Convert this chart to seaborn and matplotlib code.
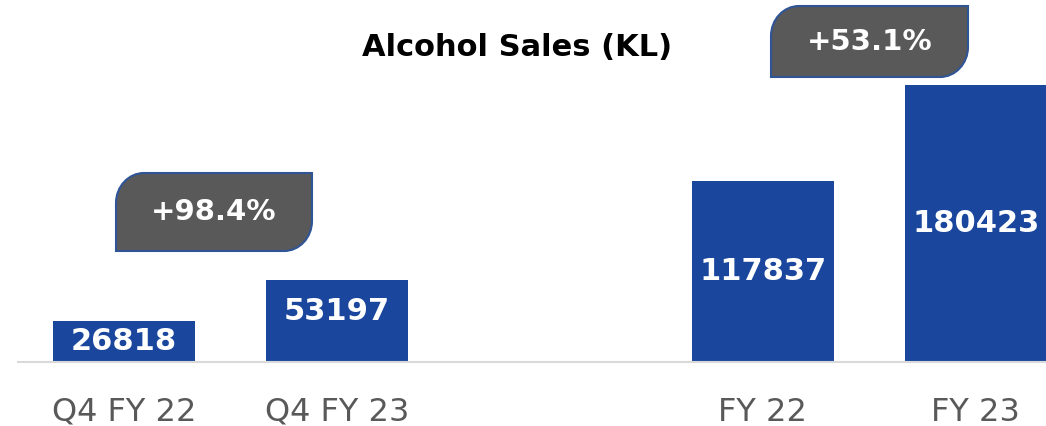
import matplotlib
matplotlib.use("Agg")
import matplotlib.pyplot as plt
import seaborn as sns
import pandas as pd
from matplotlib.path import Path
from matplotlib.patches import PathPatch

categories = ["Q4 FY 22", "Q4 FY 23", "FY 22", "FY 23"]
values = [26818, 53197, 117837, 180423]
order = ["Q4 FY 22", "Q4 FY 23", " ", "FY 22", "FY 23"]
growth_labels = ["+98.4%", "+53.1%"]
title = "Alcohol Sales (KL)"

BAR = "#1A479D"
GREY = "#595959"

sns.set_theme(style="white")
plt.rcParams["font.family"] = ["DejaVu Sans"]

W, H = 1046, 426
fig = plt.figure(figsize=(W / 100, H / 100), dpi=100)
ax = fig.add_axes([17.5 / W, (H - 362) / H, 1 - 17.5 / W, 362 / H])

df = pd.DataFrame({"period": categories, "kl": values})
sns.barplot(data=df, x="period", y="kl", order=order, color=BAR,
            saturation=1, width=0.667, ax=ax, edgecolor=BAR, linewidth=0)

ax.set_xlim(-0.5, 4.33)
ax.set_ylim(0, 180423 * 362 / 277)
ax.set_xlabel("")
ax.set_ylabel("")
ax.set_yticks([])
for s in ["left", "right", "top"]:
    ax.spines[s].set_visible(False)
ax.spines["bottom"].set_color("#D9D9D9")
ax.spines["bottom"].set_linewidth(1.5)
ax.tick_params(axis="x", length=0, pad=25, labelsize=23, labelcolor=GREY)

# value labels centred in the bars (small vertical nudges as in the reference)
nudges = [0, 10, 0, 0]
for bar, v, dy in zip(ax.containers[0], values, nudges):
    cx = bar.get_x() + bar.get_width() / 2
    ax.annotate(f"{v}", (cx, bar.get_height() / 2), xytext=(0, dy),
                textcoords="offset pixels", ha="center", va="center",
                color="white", fontsize=22, fontweight="bold")

fig.text(517 / W, 1 - 47 / H, title, ha="center", va="center",
         fontsize=22, fontweight="bold", color="black")


def badge(x0, y0, x1, y1, rx, ry, text):
    # pixel coords (top-down); rounded top-left and bottom-right corners
    kx, ky = 0.5523 * rx, 0.5523 * ry
    def P(x, y):
        return (x / W, 1 - y / H)
    verts = [
        P(x0 + rx, y0), P(x1, y0), P(x1, y1 - ry),
        P(x1, y1 - ry + ky), P(x1 - rx + kx, y1), P(x1 - rx, y1),
        P(x0, y1), P(x0, y0 + ry),
        P(x0, y0 + ry - ky), P(x0 + rx - kx, y0), P(x0 + rx, y0),
        P(x0 + rx, y0),
    ]
    codes = [Path.MOVETO, Path.LINETO, Path.LINETO,
             Path.CURVE4, Path.CURVE4, Path.CURVE4,
             Path.LINETO, Path.LINETO,
             Path.CURVE4, Path.CURVE4, Path.CURVE4,
             Path.CLOSEPOLY]
    patch = PathPatch(Path(verts, codes), transform=fig.transFigure,
                      facecolor=GREY, edgecolor="#2F5597", linewidth=1.5,
                      zorder=5)
    fig.patches.append(patch)
    fig.text((x0 + x1) / 2 / W, 1 - (y0 + y1) / 2 / H, text, ha="center",
             va="center", color="white", fontsize=21, fontweight="bold",
             zorder=6)


badge(116, 173, 312, 251, 28, 30, growth_labels[0])
badge(771, 6, 968, 77, 28, 30, growth_labels[1])

fig.savefig("out.png", dpi=100)
